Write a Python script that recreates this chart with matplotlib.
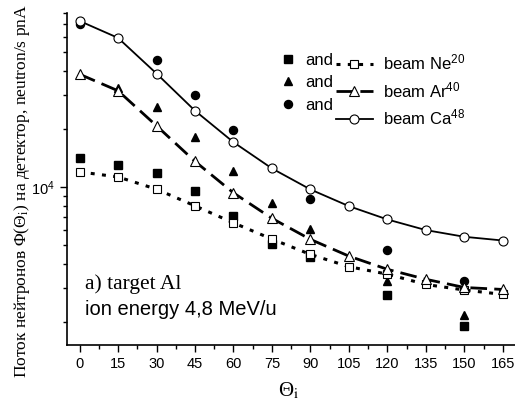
import numpy as np
import matplotlib
matplotlib.use('Agg')
import matplotlib.pyplot as plt
from matplotlib.ticker import LogLocator, NullFormatter, MultipleLocator

plt.rcParams['font.family'] = ['Liberation Sans', 'DejaVu Sans']
plt.rcParams['mathtext.fontset'] = 'custom'
plt.rcParams['mathtext.rm'] = 'Liberation Sans'
plt.rcParams['mathtext.it'] = 'Liberation Sans:italic'

# angles of the detectors, degrees
angles = [0, 15, 30, 45, 60, 75, 90, 105, 120, 135, 150, 165]

# calculated flux (open markers + curves)
ca_calc = [72700, 59400, 38800, 24900, 17100, 12500, 9730, 7970, 6800, 5990, 5530, 5290]
ar_calc = [38500, 31600, 20800, 13600, 9340, 6890, 5360, 4390, 3750, 3330, 3020, 2950]
ne_calc = [12000, 11300, 9760, 8000, 6530, 5380, 4480, 3870, 3540, 3130, 2930, 2780]

# measured flux (filled markers)
ca_meas_angles = [0, 30, 45, 60, 90, 120, 150]
ca_meas = [69900, 45800, 30200, 19700, 8670, 4750, 3260]
ar_meas_angles = [15, 30, 45, 60, 75, 90, 120, 150]
ar_meas = [32500, 25900, 18200, 12100, 8230, 6060, 3270, 2170]
ne_meas_angles = [0, 15, 30, 45, 60, 75, 90, 120, 150]
ne_meas = [14100, 13100, 11800, 9570, 7100, 5050, 4320, 2760, 1910]

labels = ['beam Ne$^{20}$', 'beam Ar$^{40}$', 'beam Ca$^{48}$']

fig = plt.figure(figsize=(5.15, 4.04), dpi=100)
ax = fig.add_axes([0.1295, 0.146, 0.872, 0.822])

# measured points
f_ne, = ax.plot(ne_meas_angles, ne_meas, 's', color='black', ms=5.2, zorder=2)
f_ar, = ax.plot(ar_meas_angles, ar_meas, '^', color='black', ms=6, zorder=2)
f_ca, = ax.plot(ca_meas_angles, ca_meas, 'o', color='black', ms=5.8, zorder=2)

# calculated curves
l_ne, = ax.plot(angles, ne_calc, color='black', lw=2.2, dashes=(1.3, 2.4),
                marker='s', mfc='white', mec='black', ms=5.6, mew=0.8, zorder=3)
l_ar, = ax.plot(angles, ar_calc, color='black', lw=2.0, dashes=(6, 2.6),
                marker='^', mfc='white', mec='black', ms=7, mew=0.8, zorder=3)
l_ca, = ax.plot(angles, ca_calc, color='black', lw=1.3,
                marker='o', mfc='white', mec='black', ms=6.5, mew=0.8, zorder=3)

ax.set_yscale('log')
ax.set_xlim(-5, 170)
ax.set_ylim(1520, 80000)

ax.xaxis.set_major_locator(MultipleLocator(15))
ax.xaxis.set_minor_locator(MultipleLocator(7.5))
ax.yaxis.set_major_locator(LogLocator(base=10))
ax.yaxis.set_minor_locator(LogLocator(base=10, subs=np.arange(2, 10)))
ax.yaxis.set_minor_formatter(NullFormatter())

ax.tick_params(which='both', direction='out', width=1, labelsize=10.5)
ax.tick_params(which='major', length=5)
ax.tick_params(which='minor', length=3)

ax.spines['top'].set_visible(False)
ax.spines['right'].set_visible(False)
for s in ['left', 'bottom']:
    ax.spines[s].set_linewidth(1.2)

ax.set_ylabel('Поток нейтронов Φ(Θ$_\\mathrm{i}$) на детектор, neutron/s pnA',
              family='Liberation Serif', fontsize=12.5, math_fontfamily='stix')
ax.yaxis.set_label_coords(-0.078, 0.465)
ax.set_xlabel('Θ$_\\mathrm{i}$', family='Liberation Serif', fontsize=15,
              math_fontfamily='stix')
ax.xaxis.set_label_coords(0.493, -0.108)

ax.text(0.041, 0.184, 'a) target Al', transform=ax.transAxes, family='Liberation Serif',
        fontsize=15.5, va='center', ha='left')
ax.text(0.041, 0.108, 'ion energy 4,8 MeV/u', transform=ax.transAxes,
        fontsize=14.5, va='center', ha='left')

leg1 = ax.legend([f_ne, f_ar, f_ca], ['and'] * 3, loc='upper left',
                 bbox_to_anchor=(0.475, 0.88), frameon=False, fontsize=12,
                 handlelength=1.0, handletextpad=0.5, labelspacing=0.45,
                 borderpad=0, borderaxespad=0)
ax.add_artist(leg1)
ax.legend([l_ne, l_ar, l_ca], labels, loc='upper left',
          bbox_to_anchor=(0.6, 0.88), frameon=False, fontsize=12,
          handlelength=2.2, handletextpad=0.6, labelspacing=0.45,
          borderpad=0, borderaxespad=0)

fig.savefig('out.png', dpi=100)
